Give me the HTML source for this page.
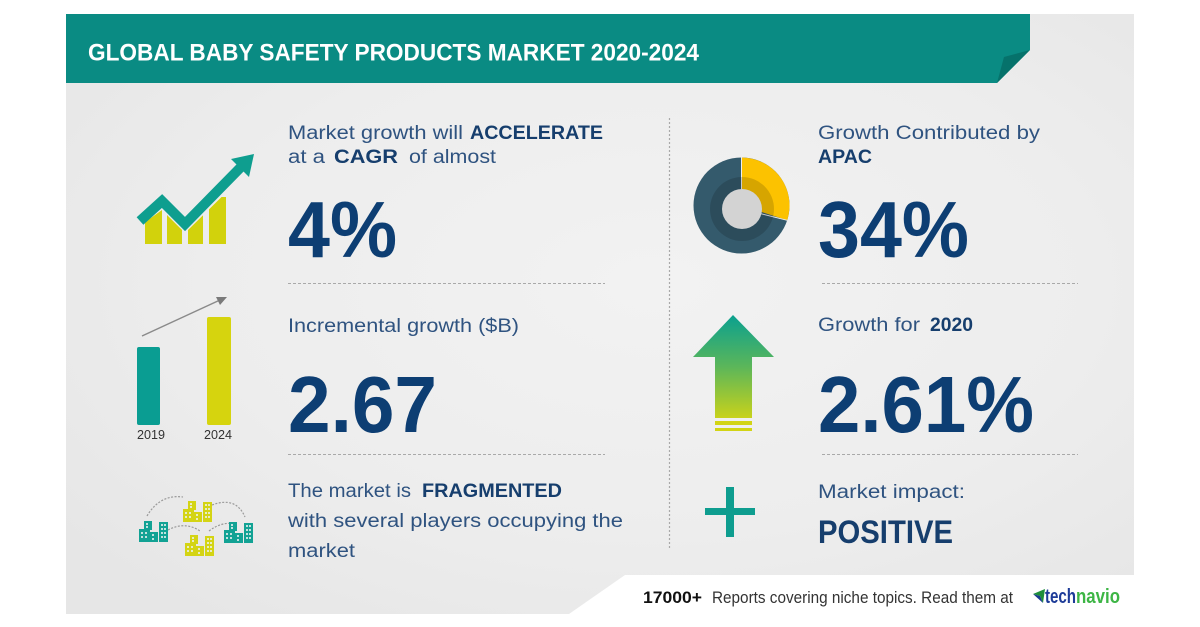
<!DOCTYPE html>
<html><head><meta charset="utf-8"><style>
html,body{margin:0;padding:0;background:#fff;}
svg{display:block;}
text{font-family:"Liberation Sans",sans-serif;}
</style></head><body>
<svg width="1200" height="627" viewBox="0 0 1200 627" xmlns="http://www.w3.org/2000/svg">
<defs>
<radialGradient id="bg" cx="0.55" cy="0.45" r="0.7">
<stop offset="0" stop-color="#f2f2f2"/>
<stop offset="0.6" stop-color="#ededed"/>
<stop offset="1" stop-color="#e6e6e6"/>
</radialGradient>
<linearGradient id="arr" x1="0" y1="0" x2="0" y2="1">
<stop offset="0" stop-color="#0aa08f"/>
<stop offset="0.5" stop-color="#5bb65a"/>
<stop offset="1" stop-color="#c8d21b"/>
</linearGradient>
<clipPath id="barclip"><polygon points="134,230 162,210 185,233 252,167 252,250 130,250"/></clipPath>
<g id="bld">
<rect x="0" y="8" width="11" height="13"/>
<rect x="5" y="0" width="8" height="9"/>
<rect x="11" y="11" width="8" height="10"/>
<rect x="20" y="1" width="9" height="20"/>
<g fill="#eef3f2" opacity="0.8">
<rect x="2" y="11" width="2" height="2"/><rect x="6" y="11" width="2" height="2"/>
<rect x="2" y="15" width="2" height="2"/><rect x="6" y="15" width="2" height="2"/>
<rect x="7" y="2" width="2" height="2"/><rect x="7" y="5" width="2" height="2"/>
<rect x="13" y="13" width="2" height="2"/><rect x="13" y="17" width="2" height="2"/>
<rect x="22" y="3" width="2" height="2"/><rect x="25" y="3" width="2" height="2"/>
<rect x="22" y="7" width="2" height="2"/><rect x="25" y="7" width="2" height="2"/>
<rect x="22" y="11" width="2" height="2"/><rect x="25" y="11" width="2" height="2"/>
<rect x="22" y="15" width="2" height="2"/><rect x="25" y="15" width="2" height="2"/>
</g>
</g>
</defs>

<rect x="66" y="14" width="1068" height="600" fill="url(#bg)"/>
<polygon points="569,614 625,575 1134,575 1134,614" fill="#ffffff"/>

<polygon points="66,14 1030,14 1030,50 997,83 66,83" fill="#0a8b83"/>
<polygon points="1030,50 1004,57 997,83" fill="#06726b"/>
<text x="88" y="60.5" font-size="24" font-weight="bold" fill="#ffffff" textLength="611" lengthAdjust="spacingAndGlyphs">GLOBAL BABY SAFETY PRODUCTS MARKET 2020-2024</text>

<g stroke="#a9a9a9" stroke-width="1" stroke-dasharray="3 2" fill="none">
<line x1="288" y1="283.5" x2="605" y2="283.5"/>
<line x1="288" y1="454.5" x2="605" y2="454.5"/>
<line x1="822" y1="283.5" x2="1078" y2="283.5"/>
<line x1="822" y1="454.5" x2="1078" y2="454.5"/>
</g>
<line x1="669.5" y1="118" x2="669.5" y2="550" stroke="#a9a9a9" stroke-width="1.2" stroke-dasharray="2 2"/>

<g clip-path="url(#barclip)" fill="#d2d20c">
<rect x="145" y="190" width="17" height="54"/>
<rect x="167" y="190" width="15" height="54"/>
<rect x="188" y="190" width="15" height="54"/>
<rect x="209" y="197" width="17" height="47"/>
</g>
<polyline points="140,221 162,201 185,224 241,167" fill="none" stroke="#0e9e8f" stroke-width="10" stroke-linejoin="miter"/>
<polygon points="254,154 231,159 249,177" fill="#0e9e8f"/>

<line x1="142" y1="336" x2="220" y2="300" stroke="#8a8a8a" stroke-width="1.5"/>
<polygon points="227,297 216,297 220,305" fill="#7a7a7a"/>
<rect x="137" y="347" width="23" height="78" rx="2" fill="#0a9d92"/>
<rect x="207" y="317" width="24" height="108" rx="2" fill="#d6d40e"/>
<text x="137" y="439" font-size="13" fill="#333" textLength="28" lengthAdjust="spacingAndGlyphs">2019</text>
<text x="204" y="439" font-size="13" fill="#333" textLength="28" lengthAdjust="spacingAndGlyphs">2024</text>

<g fill="none" stroke="#9a9a9a" stroke-width="1.2" stroke-dasharray="2 1.5">
<path d="M147,516 Q160,494 183,497"/>
<path d="M212,505 Q236,496 245,517"/>
<path d="M168,530 Q185,521 200,531"/>
<path d="M209,531 Q222,521 236,524"/>
</g>
<use href="#bld" x="139" y="521" fill="#12a294"/>
<use href="#bld" x="183" y="501" fill="#d4d414"/>
<use href="#bld" x="185" y="535" fill="#d4d414"/>
<use href="#bld" x="224" y="522" fill="#12a294"/>

<circle cx="741.5" cy="205.5" r="48" fill="#345a6c"/>
<path d="M741.5,205.5 L741.5,157.5 A48,48 0 0 1 787.2,220.3 Z" fill="#fcc200"/>
<line x1="741.5" y1="157.5" x2="741.5" y2="190" stroke="#eeeeee" stroke-width="1"/>
<line x1="758" y1="213" x2="787.2" y2="220.3" stroke="#eeeeee" stroke-width="1"/>
<circle cx="742" cy="209" r="32" fill="#000" opacity="0.15"/>
<circle cx="742" cy="209" r="20" fill="#d3d3d3"/>

<polygon points="733,315 774,357 752,357 752,418 715,418 715,357 693,357" fill="url(#arr)"/>
<rect x="715" y="421" width="37" height="4" fill="#d2d415"/>
<rect x="715" y="428" width="37" height="3" fill="#d2d415"/>

<rect x="726" y="487" width="8" height="50" fill="#0e9d8f"/>
<rect x="705" y="508" width="50" height="7" fill="#0e9d8f"/>

<g font-size="19">
<text x="288" y="139" fill="#2f5380" textLength="175" lengthAdjust="spacingAndGlyphs">Market growth will</text>
<text x="470" y="139" fill="#163e6d" font-weight="bold" textLength="133" lengthAdjust="spacingAndGlyphs">ACCELERATE</text>
<text x="288" y="163" fill="#2f5380" textLength="37" lengthAdjust="spacingAndGlyphs">at a</text>
<text x="334" y="163" fill="#163e6d" font-weight="bold" textLength="64" lengthAdjust="spacingAndGlyphs">CAGR</text>
<text x="409" y="163" fill="#2f5380" textLength="87" lengthAdjust="spacingAndGlyphs">of almost</text>

<text x="288" y="332" fill="#2f5380" textLength="231" lengthAdjust="spacingAndGlyphs">Incremental growth ($B)</text>

<text x="288" y="497" fill="#2f5380" textLength="123" lengthAdjust="spacingAndGlyphs">The market is</text>
<text x="422" y="497" fill="#163e6d" font-weight="bold" textLength="140" lengthAdjust="spacingAndGlyphs">FRAGMENTED</text>
<text x="288" y="527" fill="#2f5380" textLength="335" lengthAdjust="spacingAndGlyphs">with several players occupying the</text>
<text x="288" y="557" fill="#2f5380" textLength="67" lengthAdjust="spacingAndGlyphs">market</text>

<text x="818" y="139" fill="#2f5380" textLength="222" lengthAdjust="spacingAndGlyphs">Growth Contributed by</text>
<text x="818" y="163" fill="#163e6d" font-weight="bold" textLength="54" lengthAdjust="spacingAndGlyphs">APAC</text>
<text x="818" y="331" fill="#2f5380" textLength="102" lengthAdjust="spacingAndGlyphs">Growth for</text>
<text x="930" y="331" fill="#163e6d" font-weight="bold" textLength="43" lengthAdjust="spacingAndGlyphs">2020</text>
<text x="818" y="498" fill="#2f5380" textLength="147" lengthAdjust="spacingAndGlyphs">Market impact:</text>
</g>
<text x="818" y="543" font-size="32" font-weight="bold" fill="#163e6d" textLength="135" lengthAdjust="spacingAndGlyphs">POSITIVE</text>

<g font-size="80" font-weight="bold" fill="#0d3e73">
<text x="288" y="257" textLength="109" lengthAdjust="spacingAndGlyphs">4%</text>
<text x="288" y="432" textLength="149" lengthAdjust="spacingAndGlyphs">2.67</text>
<text x="818" y="257" textLength="151" lengthAdjust="spacingAndGlyphs">34%</text>
<text x="818" y="432" textLength="216" lengthAdjust="spacingAndGlyphs">2.61%</text>
</g>

<text x="643" y="603" font-size="17" font-weight="bold" fill="#111" textLength="59" lengthAdjust="spacingAndGlyphs">17000+</text>
<text x="712" y="603" font-size="17" fill="#333" textLength="301" lengthAdjust="spacingAndGlyphs">Reports covering niche topics. Read them at</text>
<polygon points="1033,594 1045,589 1043,603 1040,596" fill="#1f8f3a"/>
<polygon points="1033,594 1040,596 1043,603" fill="#1a3a8f"/>
<text x="1045" y="603" font-size="20" font-weight="bold" fill="#1d3b98" textLength="31" lengthAdjust="spacingAndGlyphs">tech</text>
<text x="1076" y="603" font-size="20" font-weight="bold" fill="#3db545" textLength="44" lengthAdjust="spacingAndGlyphs">navio</text>
</svg>
</body></html>
